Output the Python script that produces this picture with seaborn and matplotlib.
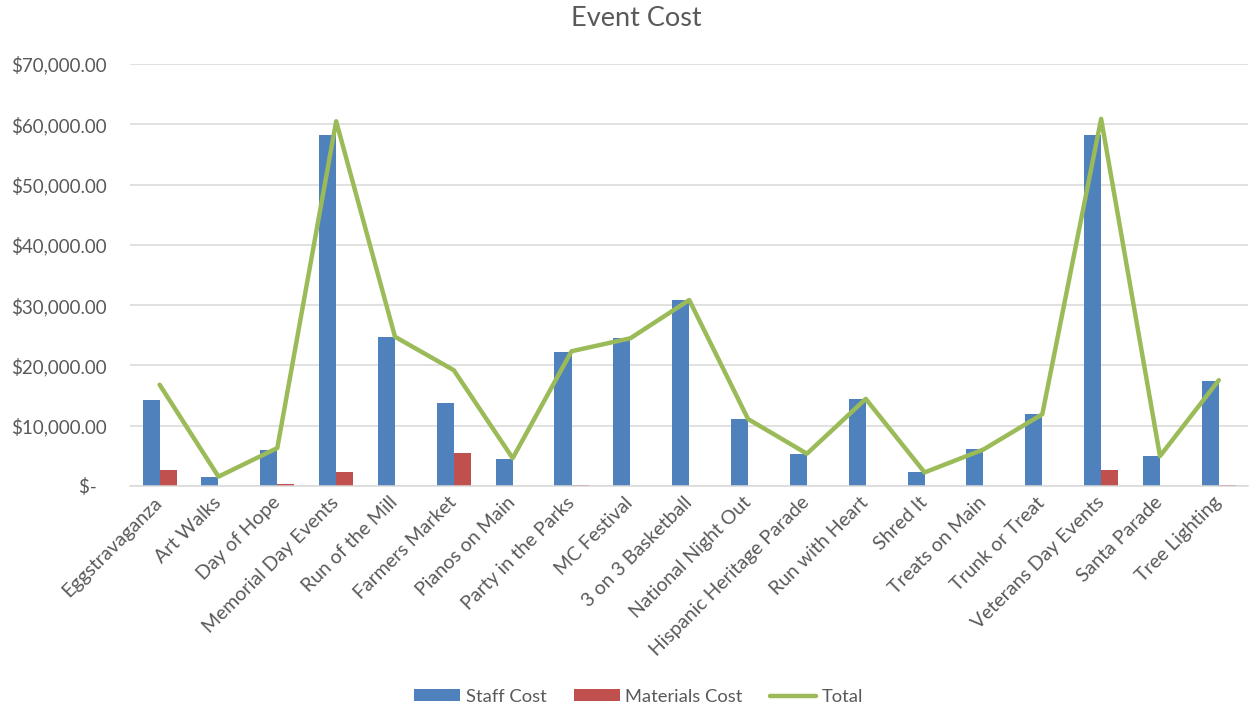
import numpy as np
import pandas as pd
import matplotlib
matplotlib.use("Agg")
import matplotlib.pyplot as plt
import seaborn as sns
from matplotlib.ticker import FuncFormatter
from matplotlib.lines import Line2D
from matplotlib.patches import Patch

events = ["Eggstravaganza", "Art Walks", "Day of Hope", "Memorial Day Events",
          "Run of the Mill", "Farmers Market", "Pianos on Main", "Party in the Parks",
          "MC Festival", "3 on 3 Basketball", "National Night Out",
          "Hispanic Heritage Parade", "Run with Heart", "Shred It", "Treats on Main",
          "Trunk or Treat", "Veterans Day Events", "Santa Parade", "Tree Lighting"]
staff_cost = [14200, 1550, 6000, 58200, 24750, 13800, 4550, 22200, 24500, 30850,
              11100, 5350, 14450, 2250, 6050, 11900, 58200, 4950, 17450]
materials_cost = [2600, 0, 300, 2300, 0, 5400, 60, 150, 0, 0,
                  0, 0, 0, 0, 0, 0, 2700, 0, 100]
total_cost = [16800, 1550, 6300, 60500, 24750, 19200, 4610, 22350, 24500, 30850,
              11100, 5350, 14450, 2250, 6050, 11900, 60900, 4950, 17550]
series_names = ["Staff Cost", "Materials Cost", "Total"]
y_ticks = [0, 10000, 20000, 30000, 40000, 50000, 60000, 70000]

BLUE = "#4F81BD"
RED = "#C0504D"
GREEN = "#9BBB59"
TXT = "#595959"
GRID = "#D9D9D9"

sns.set_theme(style="white")
plt.rcParams["font.family"] = ["Lato", "DejaVu Sans"]

df = pd.DataFrame({
    "Event": events * 2,
    "Cost": staff_cost + materials_cost,
    "Series": [series_names[0]] * len(events) + [series_names[1]] * len(events),
})

fig = plt.figure(figsize=(12.52, 7.11), dpi=100)
ax = fig.add_axes([0.104, 0.3165, 0.893, 0.5935])

sns.barplot(data=df, x="Event", y="Cost", hue="Series", order=events,
            hue_order=series_names[:2], palette=[BLUE, RED], width=0.58,
            errorbar=None, ax=ax, legend=False, saturation=1,
            edgecolor="none", linewidth=0, zorder=2)
sns.lineplot(x=np.arange(len(events)), y=total_cost, color=GREEN, linewidth=3.2,
             ax=ax, zorder=3, solid_joinstyle="round", solid_capstyle="round")

ax.set_xlim(-0.5, len(events) - 0.5)
ax.set_ylim(0, 70000)
ax.set_yticks(y_ticks)

def fmt(v, pos):
    if v == 0:
        return "$-  "
    return "${:,.2f}".format(v)

ax.yaxis.set_major_formatter(FuncFormatter(fmt))
ax.grid(axis="y", color=GRID, linewidth=1.1, zorder=0)
ax.set_axisbelow(True)
for s in ["top", "right", "left"]:
    ax.spines[s].set_visible(False)
ax.spines["bottom"].set_color(GRID)
ax.spines["bottom"].set_linewidth(1.1)
ax.set_xlabel("")
ax.set_ylabel("")
ax.tick_params(axis="y", length=0, pad=17, labelsize=13.5, labelcolor=TXT)
ax.tick_params(axis="x", length=0, pad=10, labelsize=14, labelcolor=TXT)
ax.set_xticks(np.arange(len(events)))
ax.set_xticklabels(events, rotation=45, ha="right", va="center", rotation_mode="anchor")

fig.text(0.508, 0.974, "Event Cost", ha="center", va="center", fontsize=19.5, color=TXT)

handles = [Patch(facecolor=BLUE, edgecolor="none"),
           Patch(facecolor=RED, edgecolor="none"),
           Line2D([0], [0], color=GREEN, linewidth=3.2, solid_capstyle="round")]
fig.legend(handles, series_names, loc="center", bbox_to_anchor=(0.510, 0.02),
           ncol=3, frameon=False, fontsize=13.2, labelcolor=TXT,
           handlelength=2.5, handleheight=0.65, handletextpad=0.3, columnspacing=1.5)

fig.savefig("out.png", dpi=100)
